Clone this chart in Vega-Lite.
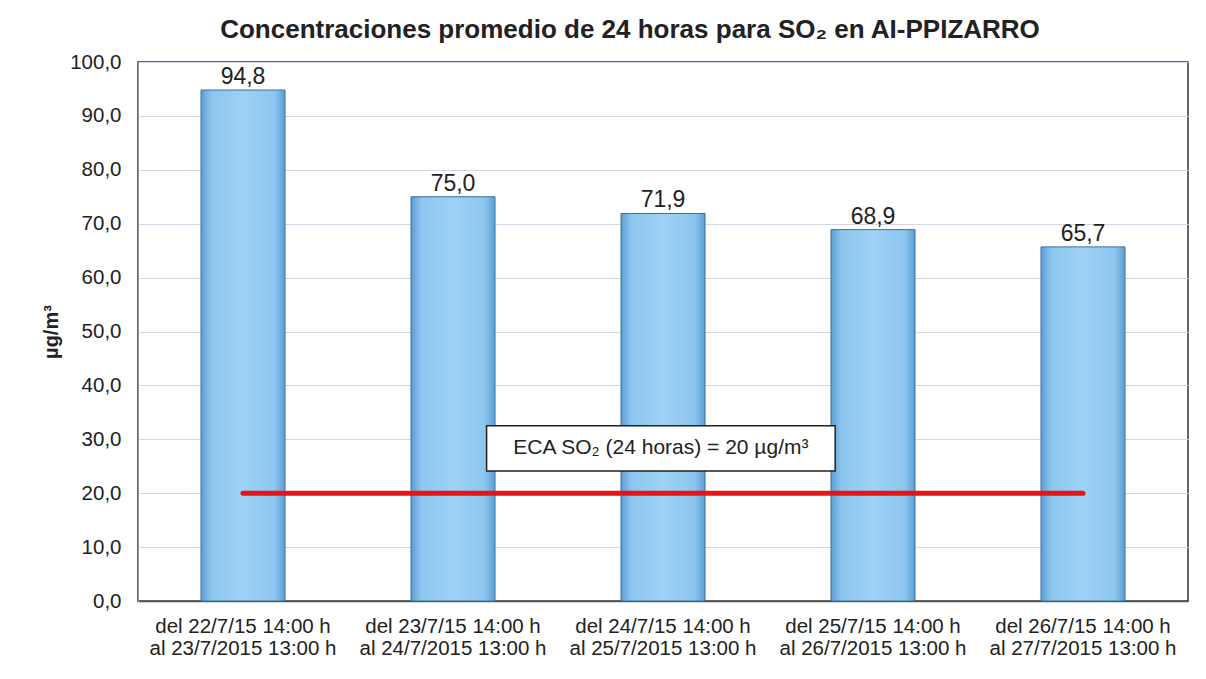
{
  "$schema": "https://vega.github.io/schema/vega-lite/v6.json",
  "autosize": "none",
  "width": 1050,
  "height": 539,
  "padding": {"left": 138, "top": 62, "right": 18, "bottom": 78},
  "background": "white",
  "config": {
    "font": "Liberation Sans",
    "locale": {"number": {"decimal": ",", "thousands": ".", "grouping": [3], "currency": ["", " €"]}},
    "view": {"stroke": "#333333", "strokeWidth": 1.5}
  },
  "title": {
    "text": "Concentraciones promedio de 24 horas para SO₂ en AI-PPIZARRO",
    "font": "Liberation Sans",
    "fontSize": 26,
    "fontWeight": "bold",
    "color": "#222222",
    "anchor": "middle",
    "dx": -33,
    "offset": 9
  },
  "datasets": {
    "bars": [
      {"periodo": "del 22/7/15 14:00 h|al 23/7/2015 13:00 h", "valor": 94.8},
      {"periodo": "del 23/7/15 14:00 h|al 24/7/2015 13:00 h", "valor": 75.0},
      {"periodo": "del 24/7/15 14:00 h|al 25/7/2015 13:00 h", "valor": 71.9},
      {"periodo": "del 25/7/15 14:00 h|al 26/7/2015 13:00 h", "valor": 68.9},
      {"periodo": "del 26/7/15 14:00 h|al 27/7/2015 13:00 h", "valor": 65.7}
    ],
    "eca": [
      {"etiqueta": "ECA SO₂  (24 horas) = 20 µg/m³", "limite": 20}
    ]
  },
  "layer": [
    {
      "data": {"name": "bars"},
      "layer": [
        {
          "mark": {
            "type": "bar",
            "stroke": "#3d6e96",
            "strokeWidth": 1,
            "color": {
              "gradient": "linear",
              "x1": 0, "x2": 1, "y1": 0, "y2": 0,
              "stops": [
                {"offset": 0, "color": "#5b9dd4"},
                {"offset": 0.12, "color": "#8cc5ee"},
                {"offset": 0.5, "color": "#9ed2f6"},
                {"offset": 0.88, "color": "#8cc5ee"},
                {"offset": 1, "color": "#5b9dd4"}
              ]
            }
          },
          "encoding": {
            "x": {
              "field": "periodo", "type": "nominal", "sort": null,
              "scale": {"paddingInner": 0.6, "paddingOuter": 0.3},
              "axis": {
                "title": null,
                "labelAngle": 0,
                "labelExpr": "split(datum.value, '|')",
                "labelFont": "Liberation Sans",
                "labelFontSize": 20.5,
                "labelColor": "#222222",
                "labelLineHeight": 22,
                "labelPadding": 15,
                "labelLimit": 400,
                "labelOverlap": false,
                "ticks": false,
                "domainColor": "#555555",
                "domainWidth": 1.5
              }
            },
            "y": {
              "field": "valor", "type": "quantitative",
              "scale": {"domain": [0, 100], "nice": false},
              "axis": {
                "title": "µg/m³",
                "titleFont": "Liberation Sans",
                "titleFontSize": 20,
                "titleFontWeight": "bold",
                "titleColor": "#222222",
                "titlePadding": 8,
                "values": [0, 10, 20, 30, 40, 50, 60, 70, 80, 90, 100],
                "format": ".1f",
                "labelFont": "Liberation Sans",
                "labelFontSize": 20.5,
                "labelColor": "#222222",
                "labelPadding": 17,
                "labelOverlap": false,
                "labelBound": false,
                "ticks": false,
                "domainColor": "#999999",
                "grid": true,
                "gridColor": "#d6d6e6",
                "gridWidth": 1
              }
            }
          }
        },
        {
          "mark": {"type": "text", "dy": -13, "fontSize": 23, "font": "Liberation Sans", "color": "#222222"},
          "encoding": {
            "x": {"field": "periodo", "type": "nominal", "sort": null},
            "y": {"field": "valor", "type": "quantitative"},
            "text": {"field": "valor", "type": "quantitative", "format": ".1f"}
          }
        }
      ]
    },
    {
      "data": {"name": "eca"},
      "layer": [
        {
          "mark": {"type": "rule", "color": "#e61515", "strokeWidth": 5, "strokeCap": "round"},
          "encoding": {
            "x": {"datum": 0.5, "type": "quantitative", "scale": {"domain": [0, 5], "nice": false, "zero": false}, "axis": null},
            "x2": {"datum": 4.5},
            "y": {"field": "limite", "type": "quantitative"}
          }
        },
        {
          "mark": {"type": "rect", "fill": "white", "stroke": "#222222", "strokeWidth": 1.5},
          "encoding": {
            "x": {"datum": 1.66, "type": "quantitative"},
            "x2": {"datum": 3.32},
            "y": {"datum": 24.1, "type": "quantitative"},
            "y2": {"datum": 32.5}
          }
        },
        {
          "mark": {"type": "text", "fontSize": 21, "font": "Liberation Sans", "color": "#222222"},
          "encoding": {
            "x": {"datum": 2.49, "type": "quantitative"},
            "y": {"datum": 28.4, "type": "quantitative"},
            "text": {"field": "etiqueta"}
          }
        }
      ]
    }
  ],
  "resolve": {"scale": {"x": "independent"}}
}
